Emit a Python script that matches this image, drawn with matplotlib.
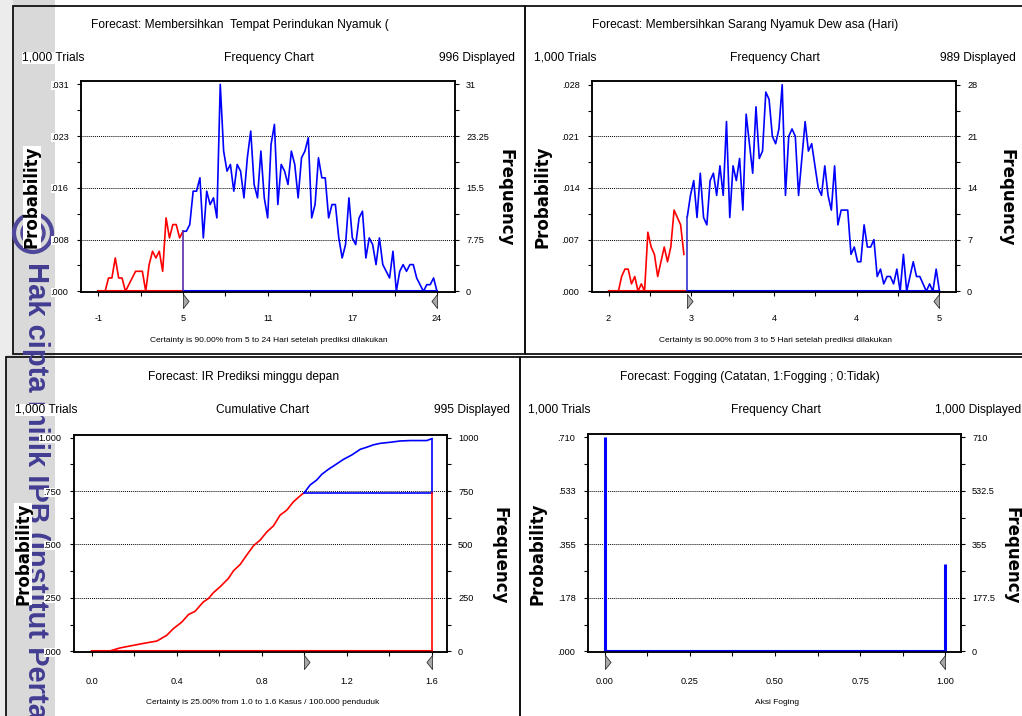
import numpy as np
import matplotlib
matplotlib.use('Agg')
import matplotlib.pyplot as plt
from matplotlib import font_manager
from matplotlib.patches import Rectangle, Circle
from matplotlib.transforms import blended_transform_factory

W, H = 1022, 716

# narrow font if present, otherwise Arial-metric font a bit smaller
avail = {f.name for f in font_manager.fontManager.ttflist}
if 'Liberation Sans Narrow' in avail:
    NARROW = ['Liberation Sans Narrow', 'DejaVu Sans']
    K = 1.0
else:
    NARROW = ['Liberation Sans', 'DejaVu Sans']
    K = 0.82
BOLD = ['DejaVu Sans']

# ---- data ----
# top left: Membersihkan Tempat Perindukan Nyamuk (counts per bin)
tl_red = [0, 0, 0, 2, 2, 5, 2, 2, 0, 1, 2, 3, 3, 3, 0, 4, 6, 5, 6, 3, 11, 8, 10, 10, 8, 9]
tl_blue = [9, 9, 10, 15, 15, 17, 8, 15, 13, 14, 11, 31, 21, 18, 19, 15, 19, 18, 14, 20,
           24, 16, 14, 21, 14, 11, 22, 25, 13, 19, 18, 16, 21, 19, 14, 20, 21, 23, 11, 13,
           20, 17, 17, 11, 13, 13, 8, 5, 7, 14, 8, 7, 11, 12, 5, 8, 7, 4, 8, 4,
           3, 2, 6, 0, 3, 4, 3, 4, 4, 2, 1, 0, 1, 1, 2, 0]
tl_xticks = ['-1', '5', '11', '17', '24']
tl_left = ['.000', '.008', '.016', '.023', '.031']
tl_right = ['0', '7.75', '15.5', '23.25', '31']

# top right: Membersihkan Sarang Nyamuk Dewasa
tr_red = [0, 0, 0, 0, 2, 3, 3, 1, 2, 0, 1, 0, 8, 6, 5, 2, 4, 6, 4, 6, 11, 10, 9, 5]
tr_blue = [10, 13, 15, 10, 16, 10, 9, 15, 16, 13, 17, 13, 23, 10, 17, 15, 18, 11, 24, 20,
           16, 25, 18, 19, 27, 26, 21, 20, 22, 28, 13, 21, 22, 21, 13, 18, 23, 19, 20, 17,
           14, 13, 17, 13, 11, 17, 9, 11, 11, 11, 5, 6, 4, 4, 9, 6, 6, 7, 2, 3,
           1, 2, 2, 1, 3, 0, 5, 0, 2, 4, 2, 2, 1, 0, 1, 0, 3, 0]
tr_xticks = ['2', '3', '4', '4', '5']
tr_left = ['.000', '.007', '.014', '.021', '.028']
tr_right = ['0', '7', '14', '21', '28']

# bottom left: IR Prediksi minggu depan (cumulative counts)
bl_red_x = [0.0, 0.086, 0.133, 0.18, 0.227, 0.259, 0.306, 0.353, 0.384, 0.424, 0.455, 0.486,
            0.525, 0.549, 0.573, 0.604, 0.643, 0.667, 0.698, 0.729, 0.761, 0.792, 0.824,
            0.855, 0.886, 0.918, 0.949, 0.988, 1.0]
bl_red_y = [2, 2, 16, 25, 34, 40, 48, 75, 106, 137, 172, 187, 231, 247, 275, 302, 341, 377,
            406, 450, 494, 520, 559, 587, 637, 661, 700, 734, 742]
bl_blue_x = [1.0, 1.027, 1.059, 1.082, 1.114, 1.145, 1.184, 1.224, 1.263, 1.294, 1.325,
             1.357, 1.404, 1.451, 1.498, 1.576, 1.6]
bl_blue_y = [742, 778, 802, 828, 852, 872, 898, 919, 945, 955, 966, 973, 978, 984, 986, 986, 995]
bl_xticks = ['0.0', '0.4', '0.8', '1.2', '1.6']
bl_left = ['.000', '.250', '.500', '.750', '1.000']
bl_right = ['0', '250', '500', '750', '1000']

# bottom right: Fogging
br_x = [0.0, 1.0]
br_count = [710, 290]
br_xticks = ['0.00', '0.25', '0.50', '0.75', '1.00']
br_left = ['.000', '.178', '.355', '.533', '.710']
br_right = ['0', '177.5', '355', '532.5', '710']

TICK = 8 * K
HEAD = 10.5 * K
SMALL = 7.3 * K


def px_axes(x0, y0, x1, y1):
    return [x0 / W, 1 - y1 / H, (x1 - x0) / W, (y1 - y0) / H]


def ftext(x, y, s, **kw):
    kw.setdefault('family', NARROW)
    kw.setdefault('zorder', 6)
    fig.text(x / W, 1 - y / H, s, **kw)


def px_rect(x0, y0, x1, y1, **kw):
    return Rectangle((x0 / 100, (H - y1) / 100), (x1 - x0) / 100, (y1 - y0) / 100,
                     transform=fig.dpi_scale_trans, **kw)


def setup(ax, xlim, ylim, xt, xlab, yt, ylab_l, ylab_r, xpad=13):
    ax.set_zorder(4)
    ax.set_xlim(xlim)
    ax.set_ylim(ylim)
    ax.set_xticks(xt)
    ax.set_xticklabels(xlab)
    ax.set_xticks([(a + b) / 2 for a, b in zip(xt[:-1], xt[1:])], minor=True)
    ax.set_yticks(yt)
    ax.set_yticklabels(ylab_l)
    ymin = [(a + b) / 2 for a, b in zip(yt[:-1], yt[1:])]
    ax.set_yticks(ymin, minor=True)
    ax.tick_params(axis='x', which='both', length=3, width=0.8, pad=xpad, labelsize=TICK)
    ax.tick_params(axis='y', which='both', length=3, width=0.8, pad=6, labelsize=TICK)
    for lab in ax.get_xticklabels() + ax.get_yticklabels():
        lab.set_family(NARROW)
    for lab in ax.get_yticklabels():
        lab.set_bbox(dict(facecolor='white', edgecolor='none', pad=0))
    for s in ax.spines.values():
        s.set_linewidth(1.1)
    for v in yt[1:-1]:
        ax.axhline(v, color='k', lw=0.7, ls=(0, (1, 1)), zorder=1)
    ax2 = ax.twinx()
    ax2.set_zorder(5)
    ax2.patch.set_visible(False)
    ax2.set_ylim(ylim)
    ax2.set_yticks(yt)
    ax2.set_yticklabels(ylab_r)
    ax2.set_yticks(ymin, minor=True)
    ax2.tick_params(axis='y', which='both', length=3, width=0.8, pad=5, labelsize=TICK)
    for lab in ax2.get_yticklabels():
        lab.set_family(NARROW)
    for s in ax2.spines.values():
        s.set_linewidth(1.1)


def markers(ax, xa, xb):
    tr = blended_transform_factory(ax.transData, ax.transAxes)
    right_tri = [(0, -1), (0, 1), (0.8, 0), (0, -1)]
    left_tri = [(0, -1), (0, 1), (-0.8, 0), (0, -1)]
    ax.plot([xa], [-0.045], transform=tr, marker=right_tri, ms=10, mfc='#a8a8a8',
            mec='#333333', mew=0.6, clip_on=False, zorder=6)
    ax.plot([xb], [-0.045], transform=tr, marker=left_tri, ms=10, mfc='#a8a8a8',
            mec='#333333', mew=0.6, clip_on=False, zorder=6)


fig = plt.figure(figsize=(10.22, 7.16), dpi=100)

# watermark strip on the left
fig.patches.append(px_rect(0, 0, 55, H, facecolor='#d9d9d9', edgecolor='none', zorder=0))
fig.patches.append(px_rect(0, 0, 13, 355, facecolor='#ececec', edgecolor='none', zorder=0))
fig.patches.append(px_rect(0, 355, 6, H, facecolor='#ececec', edgecolor='none', zorder=0))

# panel borders
for r in [(13, 6, 525, 354), (525, 6, 1030, 354), (6, 357, 520, 730), (520, 357, 1030, 730)]:
    fig.patches.append(px_rect(*r, fill=False, edgecolor='#111111', lw=1.3, zorder=1))

# watermark logo + text
for rad, lw in [(0.19, 3.0), (0.11, 2.5)]:
    fig.patches.append(Circle((0.33, (H - 233) / 100), rad, transform=fig.dpi_scale_trans,
                              fill=False, edgecolor='#4f4799', lw=lw, zorder=3))
fig.text(36 / W, 1 - 262 / H, 'Hak cipta milik IPB (Institut Pertanian Bogor)', rotation=-90,
         ha='center', va='top', family=['Liberation Sans', 'DejaVu Sans'], weight='bold',
         size=21, color='#433d92', zorder=3)

# ---------- top left ----------
ax = fig.add_axes(px_axes(81, 81, 455, 292))
x_all = np.linspace(-1, 24, len(tl_red) + len(tl_blue) - 1)
xr = x_all[:len(tl_red)]
xb = x_all[len(tl_red) - 1:]
setup(ax, (-2.28, 25.33), (-0.1, 31.5), list(np.linspace(-1, 24, 5)), tl_xticks,
      list(np.linspace(0, 31, 5)), tl_left, tl_right)
ax.plot([xr[0], xr[-1]], [0, 0], color='red', lw=1.5, clip_on=False, zorder=3)
ax.plot([xb[0], xb[-1]], [0, 0], color='blue', lw=1.5, clip_on=False, zorder=3)
ax.plot(xr, tl_red, color='red', lw=1.2, zorder=4)
ax.plot(xb, tl_blue, color='blue', lw=1.2, zorder=4)
ax.plot([xb[0], xb[0]], [0, tl_blue[0]], color='#5a2aa8', lw=1.2, zorder=4)
markers(ax, xb[0], xb[-1])

ftext(240, 25, 'Forecast: Membersihkan  Tempat Perindukan Nyamuk (', ha='center', va='center', size=HEAD)
ftext(22, 58, '1,000 Trials', ha='left', va='center', size=HEAD,
      bbox=dict(facecolor='white', edgecolor='none', pad=0))
ftext(269, 58, 'Frequency Chart', ha='center', va='center', size=HEAD)
ftext(515, 58, '996 Displayed', ha='right', va='center', size=HEAD)
ftext(269, 340, 'Certainty is 90.00% from 5 to 24 Hari setelah prediksi dilakukan',
      ha='center', va='center', size=SMALL)
ftext(32, 197, 'Probability', rotation=90, ha='center', va='center', size=12, weight='bold',
      family=BOLD, bbox=dict(facecolor='white', edgecolor='none', pad=0))
ftext(505, 198, 'Frequency', rotation=-90, ha='center', va='center', size=12, weight='bold',
      family=BOLD)

# ---------- top right ----------
ax = fig.add_axes(px_axes(592, 81, 956, 292))
x_all = np.linspace(2, 5, len(tr_red) + len(tr_blue))
xr = x_all[:len(tr_red)]
xb = x_all[len(tr_red):]
setup(ax, (1.85, 5.15), (-0.1, 28.5), list(np.linspace(2, 5, 5)), tr_xticks,
      list(np.linspace(0, 28, 5)), tr_left, tr_right)
ax.plot([xr[0], xb[0]], [0, 0], color='red', lw=1.5, clip_on=False, zorder=3)
ax.plot([xb[0], xb[-1]], [0, 0], color='blue', lw=1.5, clip_on=False, zorder=3)
ax.plot(xr, tr_red, color='red', lw=1.2, zorder=4)
ax.plot(xb, tr_blue, color='blue', lw=1.2, zorder=4)
ax.plot([xb[0], xb[0]], [0, tr_blue[0]], color='#3030d0', lw=1.2, zorder=4)
markers(ax, xb[0], xb[-1])

ftext(745, 25, 'Forecast: Membersihkan Sarang Nyamuk Dew asa (Hari)', ha='center', va='center', size=HEAD)
ftext(534, 58, '1,000 Trials', ha='left', va='center', size=HEAD)
ftext(775, 58, 'Frequency Chart', ha='center', va='center', size=HEAD)
ftext(1016, 58, '989 Displayed', ha='right', va='center', size=HEAD)
ftext(775, 340, 'Certainty is 90.00% from 3 to 5 Hari setelah prediksi dilakukan',
      ha='center', va='center', size=SMALL)
ftext(542, 197, 'Probability', rotation=90, ha='center', va='center', size=12, weight='bold',
      family=BOLD)
ftext(1006, 198, 'Frequency', rotation=-90, ha='center', va='center', size=12, weight='bold',
      family=BOLD)

# ---------- bottom left ----------
ax = fig.add_axes(px_axes(74, 435, 447, 652))
setup(ax, (-0.083, 1.671), (-3, 1012), list(np.linspace(0, 1.6, 5)), bl_xticks,
      list(np.linspace(0, 1000, 5)), bl_left, bl_right, xpad=15)
ax.plot([bl_red_x[0], bl_blue_x[-1]], [0, 0], color='red', lw=1.5, clip_on=False, zorder=3)
ax.plot(bl_red_x, bl_red_y, color='red', lw=1.2, zorder=4)
ax.plot(bl_blue_x, bl_blue_y, color='blue', lw=1.2, zorder=4)
ax.plot([bl_blue_x[0], bl_blue_x[-1]], [bl_red_y[-1], bl_red_y[-1]], color='blue', lw=1.2, zorder=4)
ax.plot([bl_blue_x[-1], bl_blue_x[-1]], [bl_red_y[-1], bl_blue_y[-1]], color='blue', lw=1.2, zorder=4)
ax.plot([bl_blue_x[-1], bl_blue_x[-1]], [0, bl_red_y[-1]], color='red', lw=1.2, zorder=4)
markers(ax, bl_blue_x[0], bl_blue_x[-1])

ftext(244, 377, 'Forecast: IR Prediksi minggu depan', ha='center', va='center', size=HEAD)
ftext(15, 410, '1,000 Trials', ha='left', va='center', size=HEAD,
      bbox=dict(facecolor='white', edgecolor='none', pad=0))
ftext(263, 410, 'Cumulative Chart', ha='center', va='center', size=HEAD)
ftext(510, 410, '995 Displayed', ha='right', va='center', size=HEAD)
ftext(263, 703, 'Certainty is 25.00% from 1.0 to 1.6 Kasus / 100.000 penduduk',
      ha='center', va='center', size=SMALL)
ftext(23, 554, 'Probability', rotation=90, ha='center', va='center', size=12, weight='bold',
      family=BOLD, bbox=dict(facecolor='white', edgecolor='none', pad=0))
ftext(500, 556, 'Frequency', rotation=-90, ha='center', va='center', size=12, weight='bold',
      family=BOLD)

# ---------- bottom right ----------
ax = fig.add_axes(px_axes(588, 434, 961, 652))
setup(ax, (-0.049, 1.046), (-2, 721), list(np.linspace(0, 1, 5)), br_xticks,
      list(np.linspace(0, 710, 5)), br_left, br_right, xpad=15)
ax.plot([br_x[0], br_x[-1]], [0, 0], color='blue', lw=1.5, clip_on=False, zorder=3)
ax.vlines(br_x, 0, br_count, color='blue', lw=2.2, zorder=4)
markers(ax, br_x[0], br_x[-1])

ftext(750, 377, 'Forecast: Fogging (Catatan, 1:Fogging ; 0:Tidak)', ha='center', va='center', size=HEAD)
ftext(528, 410, '1,000 Trials', ha='left', va='center', size=HEAD)
ftext(776, 410, 'Frequency Chart', ha='center', va='center', size=HEAD)
ftext(1021, 410, '1,000 Displayed', ha='right', va='center', size=HEAD)
ftext(777, 703, 'Aksi Foging', ha='center', va='center', size=SMALL)
ftext(537, 554, 'Probability', rotation=90, ha='center', va='center', size=12, weight='bold',
      family=BOLD)
ftext(1012, 556, 'Frequency', rotation=-90, ha='center', va='center', size=12, weight='bold',
      family=BOLD)

fig.savefig('out.png', dpi=100)
